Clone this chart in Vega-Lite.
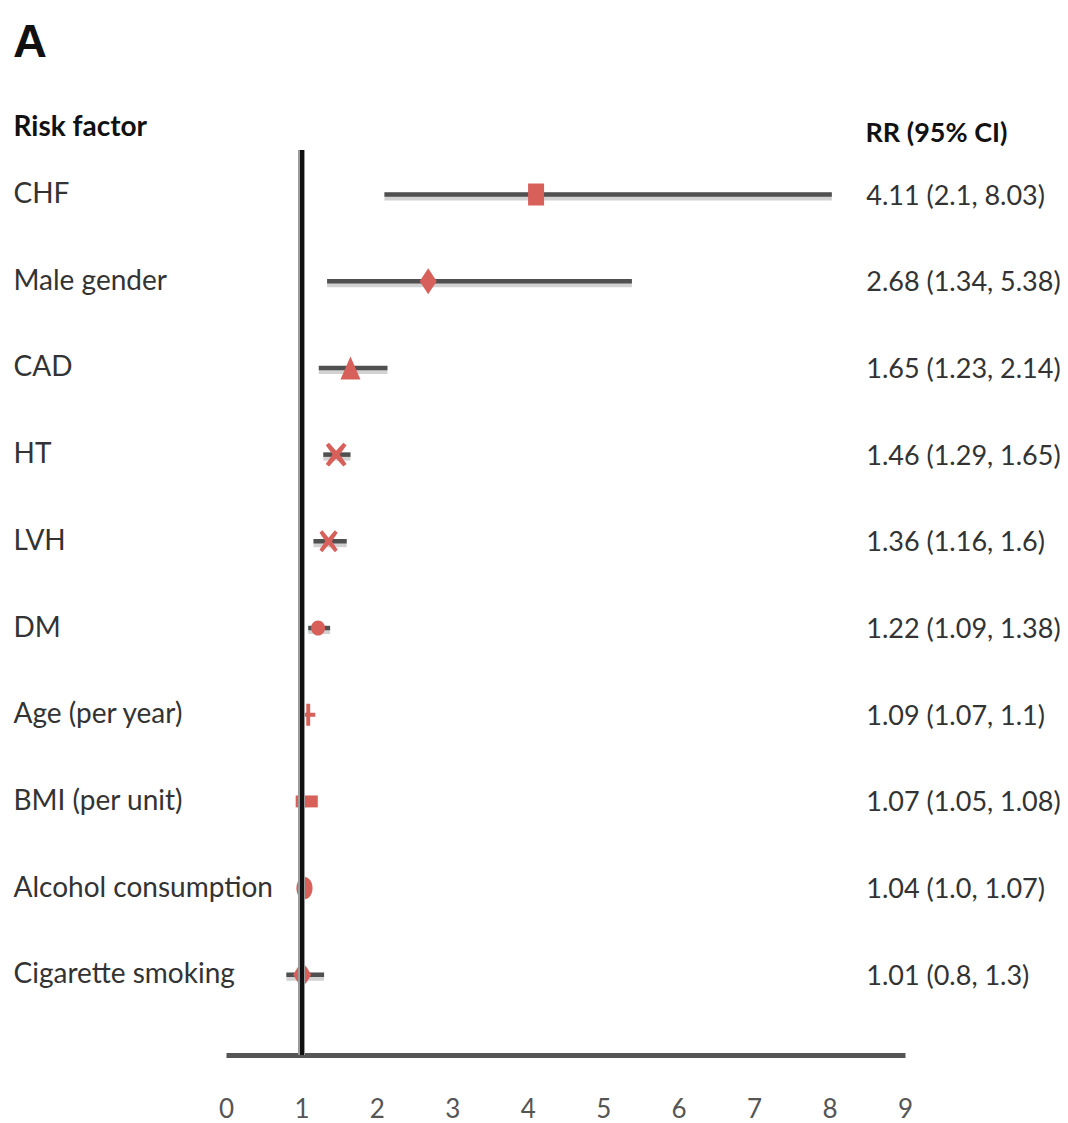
{
  "$schema": "https://vega.github.io/schema/vega-lite/v6.json",
  "width": 679,
  "height": 905,
  "autosize": {"type": "none"},
  "padding": {"left": 226, "top": 150, "right": 163, "bottom": 68},
  "background": "white",
  "title": {
    "text": "A",
    "anchor": "start",
    "frame": "bounds",
    "font": "Liberation Sans",
    "fontSize": 47,
    "fontWeight": "bold",
    "color": "#111111",
    "baseline": "alphabetic",
    "offset": 0,
    "dx": 0,
    "dy": -9
  },
  "config": {
    "view": {"stroke": null},
    "font": "Lato"
  },
  "data": {
    "values": [
      {"factor": "CHF", "rr": 4.11, "lo": 2.1, "hi": 8.03, "ci": "4.11 (2.1, 8.03)"},
      {"factor": "Male gender", "rr": 2.68, "lo": 1.34, "hi": 5.38, "ci": "2.68 (1.34, 5.38)"},
      {"factor": "CAD", "rr": 1.65, "lo": 1.23, "hi": 2.14, "ci": "1.65 (1.23, 2.14)"},
      {"factor": "HT", "rr": 1.46, "lo": 1.29, "hi": 1.65, "ci": "1.46 (1.29, 1.65)"},
      {"factor": "LVH", "rr": 1.36, "lo": 1.16, "hi": 1.6, "ci": "1.36 (1.16, 1.6)"},
      {"factor": "DM", "rr": 1.22, "lo": 1.09, "hi": 1.38, "ci": "1.22 (1.09, 1.38)"},
      {"factor": "Age (per year)", "rr": 1.09, "lo": 1.07, "hi": 1.1, "ci": "1.09 (1.07, 1.1)"},
      {"factor": "BMI (per unit)", "rr": 1.07, "lo": 1.05, "hi": 1.08, "ci": "1.07 (1.05, 1.08)"},
      {"factor": "Alcohol consumption", "rr": 1.04, "lo": 1.0, "hi": 1.07, "ci": "1.04 (1.0, 1.07)"},
      {"factor": "Cigarette smoking", "rr": 1.01, "lo": 0.8, "hi": 1.3, "ci": "1.01 (0.8, 1.3)"}
    ]
  },
  "resolve": {"axis": {"x": "independent"}},
  "layer": [
    {
      "mark": {"type": "rule", "color": "#d2d2d2", "strokeWidth": 8, "yOffset": 2},
      "encoding": {
        "y": {
          "field": "factor",
          "type": "nominal",
          "sort": null,
          "scale": {"type": "point", "padding": 0.719, "align": 0.357},
          "axis": {
            "orient": "left",
            "domain": false,
            "ticks": false,
            "grid": false,
            "labelAlign": "left",
            "labelBaseline": "middle",
            "labelPadding": 213,
            "labelFontSize": 28,
            "labelColor": "#333333",
            "labelLimit": 400,
            "title": "Risk factor",
            "titleAngle": 0,
            "titleAlign": "left",
            "titleBaseline": "alphabetic",
            "titleX": -213,
            "titleY": -15,
            "titleFontSize": 28,
            "titleFontWeight": "bold",
            "titleColor": "#111111"
          }
        },
        "x": {
          "field": "lo",
          "type": "quantitative",
          "scale": {"domain": [0, 9], "nice": false, "zero": false},
          "axis": {
            "orient": "bottom",
            "values": [0, 1, 2, 3, 4, 5, 6, 7, 8, 9],
            "format": "d",
            "grid": false,
            "ticks": false,
            "domainColor": "#555555",
            "domainWidth": 5,
            "labelPadding": 41,
            "labelFontSize": 26,
            "labelColor": "#555555",
            "labelFlush": false,
            "title": null
          }
        },
        "x2": {"field": "hi"}
      }
    },
    {
      "mark": {"type": "rule", "color": "#505050", "strokeWidth": 4.5},
      "encoding": {
        "y": {"field": "factor", "type": "nominal", "sort": null},
        "x": {"field": "lo", "type": "quantitative", "axis": null},
        "x2": {"field": "hi"}
      }
    },
    {
      "mark": {"type": "point", "filled": true, "opacity": 1, "size": 676, "color": "#d8605b"},
      "encoding": {
        "y": {"field": "factor", "type": "nominal", "sort": null},
        "x": {"field": "rr", "type": "quantitative", "axis": null},
        "shape": {
          "field": "factor",
          "type": "nominal",
          "legend": null,
          "scale": {
            "domain": ["CHF", "Male gender", "CAD", "HT", "LVH", "DM", "Age (per year)", "BMI (per unit)", "Alcohol consumption", "Cigarette smoking"],
            "range": [
              "M-0.615,-0.846H0.615V0.846H-0.615Z",
              "M0,-1L0.654,0L0,1L-0.654,0Z",
              "M0,-0.885L0.77,0.885H-0.77Z",
              "M-0.8,-0.72L-0.55,-0.92L0,-0.3L0.55,-0.92L0.8,-0.72L0.28,0L0.8,0.72L0.55,0.92L0,0.3L-0.55,0.92L-0.8,0.72L-0.28,0Z",
              "M-0.7,-0.65L-0.48,-0.85L0,-0.27L0.48,-0.85L0.7,-0.65L0.25,0L0.7,0.65L0.48,0.85L0,0.27L-0.48,0.85L-0.7,0.65L-0.25,0Z",
              "M0,-0.58A0.54,0.58,0,1,1,0,0.58A0.54,0.58,0,1,1,0,-0.58Z",
              "M-0.15,-0.85H0.15V-0.15H0.54V0.15H0.15V0.85H-0.15V0.15H-0.54V-0.15H-0.15Z",
              "M-0.85,-0.46H0.85V0.46H-0.85Z",
              "M0,-0.85A0.62,0.85,0,1,1,0,0.85A0.62,0.85,0,1,1,0,-0.85Z",
              "M0,-1Q0.45,-0.5,0.69,0Q0.45,0.5,0,1Q-0.45,0.5,-0.69,0Q-0.45,-0.5,0,-1Z"
            ]
          }
        }
      }
    },
    {
      "mark": {"type": "rule", "color": "#9a9a9a", "strokeWidth": 6},
      "encoding": {"x": {"datum": 1, "type": "quantitative", "axis": null}}
    },
    {
      "mark": {"type": "rule", "color": "#111111", "strokeWidth": 3, "xOffset": 0.5},
      "encoding": {"x": {"datum": 1, "type": "quantitative", "axis": null}}
    },
    {
      "mark": {"type": "text", "align": "left", "baseline": "middle", "fontSize": 27, "color": "#333333", "dy": 2},
      "encoding": {
        "y": {"field": "factor", "type": "nominal", "sort": null},
        "x": {
          "datum": 8.486,
          "type": "quantitative",
          "axis": {
            "orient": "top",
            "domain": false,
            "ticks": false,
            "labels": false,
            "grid": false,
            "title": "RR (95% CI)",
            "titleAnchor": "start",
            "titleAlign": "left",
            "titleBaseline": "alphabetic",
            "titleX": 639,
            "titleY": -9,
            "titleFontSize": 27,
            "titleFontWeight": "bold",
            "titleColor": "#111111"
          }
        },
        "text": {"field": "ci"}
      }
    }
  ]
}
